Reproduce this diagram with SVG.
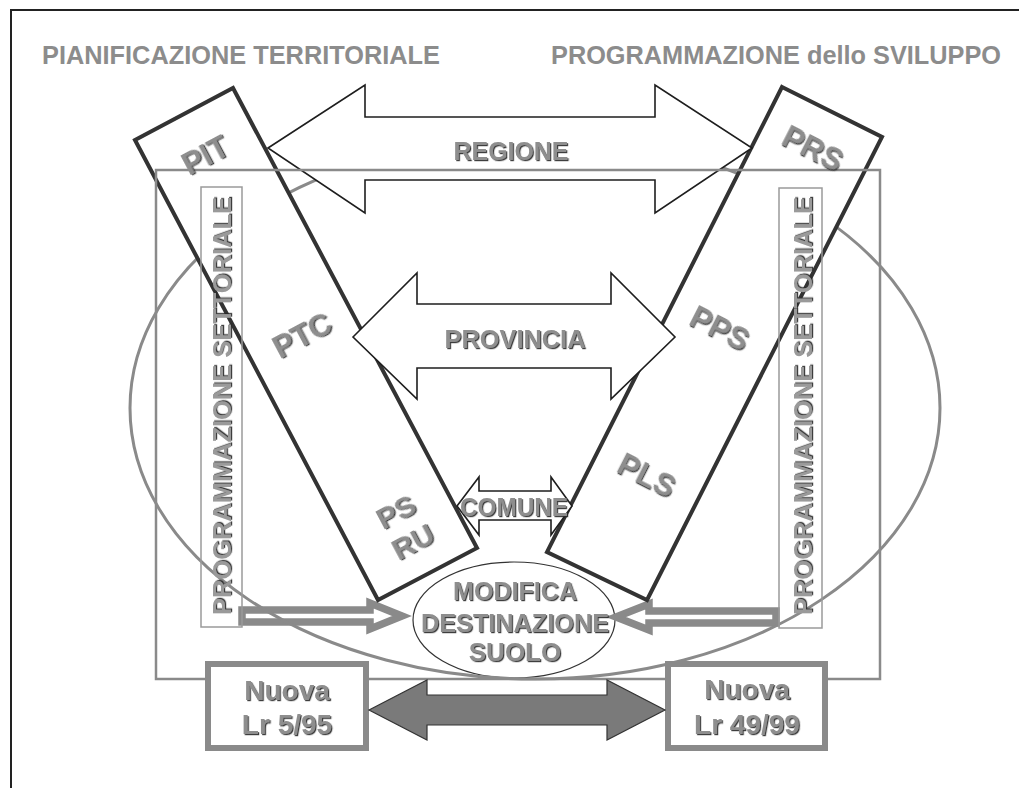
<svg xmlns="http://www.w3.org/2000/svg" width="1019" height="788" viewBox="0 0 1019 788">
<defs>
<filter id="emb" x="-10%" y="-10%" width="130%" height="140%">
<feDropShadow dx="1.2" dy="1.2" stdDeviation="0.3" flood-color="#2a2a2a" flood-opacity="0.9"/>
</filter>
<style>
.title{font-family:"Liberation Sans",Arial,sans-serif;font-weight:bold;font-size:26px;fill:#8c8c8c}
.lbl{font-family:"Liberation Sans",Arial,sans-serif;font-weight:bold;fill:#8e8e8e;text-anchor:middle;filter:url(#emb)}
.prog{font-family:"Liberation Sans",Arial,sans-serif;font-weight:bold;font-size:26px;fill:#9a9a9a;text-anchor:middle;filter:url(#emb)}
.bar{fill:#ffffff;stroke:#333333;stroke-width:4;stroke-linejoin:miter}
.arrow{fill:#ffffff;stroke:#1e1e1e;stroke-width:1.6;stroke-linejoin:miter}
.hollow{fill:#ffffff;stroke:#8a8a8a;stroke-width:7.5;stroke-linejoin:miter;stroke-miterlimit:10}
.gray{fill:none;stroke:#8a8a8a;stroke-width:2.5}
.pbox{fill:none;stroke:#9a9a9a;stroke-width:1.5}
.nbox{fill:#ffffff;stroke:#8a8a8a;stroke-width:6}
</style>
</defs>
<rect x="0" y="0" width="1019" height="788" fill="#ffffff"/>
<g id="frame">
<path d="M11,788 V10 H1019" fill="none" stroke="#222" stroke-width="2"/>
</g>
<text class="title" x="42" y="64" textLength="398" lengthAdjust="spacingAndGlyphs">PIANIFICAZIONE TERRITORIALE</text>
<text class="title" x="551" y="64" font-size="24" textLength="450" lengthAdjust="spacingAndGlyphs">PROGRAMMAZIONE dello SVILUPPO</text>

<g id="modifica-shape">
<ellipse cx="514" cy="620" rx="101" ry="58" fill="#ffffff" stroke="#333" stroke-width="1.2"/>
</g>
<g id="connectors">
<polygon class="hollow" points="242,610 370,610 370,603 402,616 370,629 370,622 242,622"/>
<polygon class="hollow" points="776,611 649,611 649,604 616,617 649,630 649,623 776,623"/>
</g>
<g id="ellipse-ambito">
<ellipse cx="535" cy="408" rx="405" ry="271" fill="none" stroke="#8a8a8a" stroke-width="3"/>
</g>

<g id="pit-bar">
<polygon class="bar" points="135,140 233,88 477,548 378,600"/>
</g>
<g id="prs-bar">
<polygon class="bar" points="782,87 882,137 647,600 547,552"/>
</g>

<g id="prog-left">
<rect class="pbox" x="201" y="187" width="41" height="440"/>
<text class="prog" transform="translate(231,406) rotate(-90)" x="0" y="0" textLength="418" lengthAdjust="spacingAndGlyphs">PROGRAMMAZIONE SETTORIALE</text>
</g>
<g id="prog-right">
<rect class="pbox" x="779" y="188" width="43" height="440"/>
<text class="prog" transform="translate(812,406) rotate(-90)" x="0" y="0" textLength="418" lengthAdjust="spacingAndGlyphs">PROGRAMMAZIONE SETTORIALE</text>
</g>

<g id="connectors-levels">
<polygon id="regione" class="arrow" points="268,148 365,85 365,117 655,117 655,85 752,148 655,213 655,180 365,180 365,213"/>
<polygon id="provincia" class="arrow" points="353,337 417,273 417,304 611,304 611,273 675,337 611,399 611,368 417,368 417,399"/>
<polygon id="comune" class="arrow" points="457,506 479,477 479,491 551,491 551,477 572,506 551,535 551,520 479,520 479,535"/>
</g>

<g id="ambito-rect">
<rect class="gray" x="156" y="170" width="724" height="509"/>
</g>

<g id="nuova-left">
<rect class="nbox" x="208" y="664" width="158" height="84"/>
<text class="lbl" x="287" y="700" font-size="28">Nuova</text>
<text class="lbl" x="287" y="734" font-size="28">Lr 5/95</text>
</g>
<g id="nuova-right">
<rect class="nbox" x="668" y="664" width="157" height="84"/>
<text class="lbl" x="747" y="699" font-size="28">Nuova</text>
<text class="lbl" x="747" y="734" font-size="28">Lr 49/99</text>
</g>
<g id="connector-leggi">
<polygon points="369,710 427,680 427,695 607,695 607,680 665,710 607,740 607,725 427,725 427,740" fill="#7a7a7a" stroke="#333" stroke-width="1.2"/>
</g>

<g id="labels">
<text class="lbl" x="511" y="160" font-size="25" textLength="115" lengthAdjust="spacingAndGlyphs">REGIONE</text>
<text class="lbl" x="515" y="348" font-size="26" textLength="141" lengthAdjust="spacingAndGlyphs">PROVINCIA</text>
<text class="lbl" x="514" y="516" font-size="25" textLength="108" lengthAdjust="spacingAndGlyphs">COMUNE</text>
<text class="lbl" x="515" y="600" font-size="26" textLength="124" lengthAdjust="spacingAndGlyphs">MODIFICA</text>
<text class="lbl" x="515" y="632" font-size="26" textLength="188" lengthAdjust="spacingAndGlyphs">DESTINAZIONE</text>
<text class="lbl" x="515" y="661" font-size="26">SUOLO</text>
<text class="lbl" font-size="31" transform="translate(205,155) rotate(-28)" y="11">PIT</text>
<text class="lbl" font-size="31" transform="translate(302,335) rotate(-28)" y="11">PTC</text>
<text class="lbl" font-size="30" transform="translate(396,512) rotate(-28)" y="10">PS</text>
<text class="lbl" font-size="30" transform="translate(413,542) rotate(-28)" y="10">RU</text>
<text class="lbl" font-size="31" transform="translate(813,148) rotate(27)" y="11">PRS</text>
<text class="lbl" font-size="31" transform="translate(720,328) rotate(27)" y="11">PPS</text>
<text class="lbl" font-size="31" transform="translate(647,475) rotate(27)" y="11">PLS</text>
</g>
</svg>
